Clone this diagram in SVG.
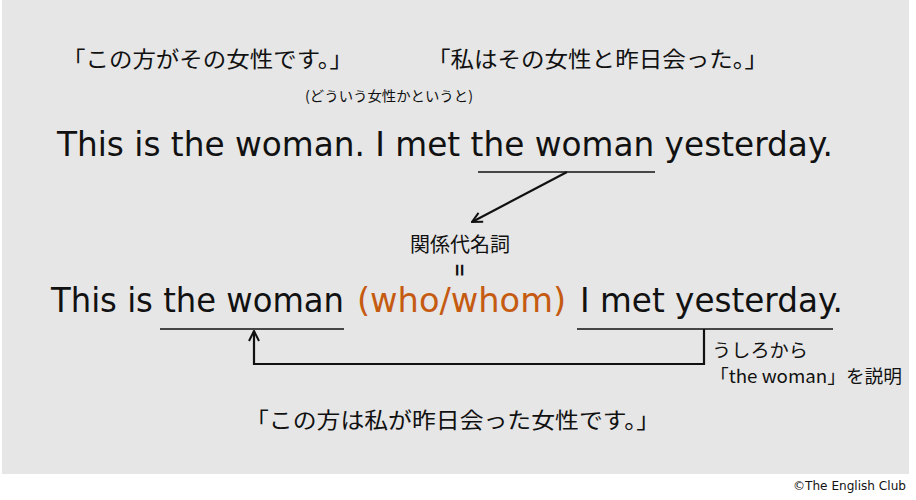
<svg xmlns="http://www.w3.org/2000/svg" width="916" height="500" viewBox="0 0 916 500">
<defs>
<style>
.en{font-family:"DejaVu Sans","Liberation Sans",sans-serif;fill:#111}
.jp{font-family:"Noto Sans CJK JP","Noto Sans",sans-serif;fill:#111}
.ul{stroke:#111;stroke-width:1.6;fill:none}
.cn{stroke:#111;stroke-width:2.2;fill:none}
</style>
<marker id="ah" viewBox="0 0 12 12" refX="11" refY="6" markerWidth="12" markerHeight="12" markerUnits="userSpaceOnUse" orient="auto">
<path d="M1,1 L11,6 L1,11" fill="none" stroke="#111" stroke-width="2"/>
</marker>
</defs>
<rect x="2" y="0" width="907" height="474" fill="#e6e6e6"/>
<g id="jp-top-left"><text class="jp" x="62" y="67" font-size="22" textLength="291" lengthAdjust="spacingAndGlyphs">「この方がその女性です。」</text></g>
<g id="jp-top-right"><text class="jp" x="427" y="67" font-size="22" textLength="341" lengthAdjust="spacingAndGlyphs">「私はその女性と昨日会った。」</text></g>
<g id="jp-note"><text class="jp" x="305" y="101" font-size="14" textLength="168" lengthAdjust="spacingAndGlyphs">(どういう女性かというと)</text></g>
<g id="sentence1"><text class="en" x="57" y="156" font-size="34" textLength="776" lengthAdjust="spacingAndGlyphs">This is the woman. I met the woman yesterday.</text></g>
<g id="rel-label">
<text class="jp" x="460" y="252" font-size="20" text-anchor="middle">関係代名詞</text>
<text class="en" x="0" y="7" font-size="20" text-anchor="middle" transform="translate(460 270) rotate(90) scale(0.85 1.3)">=</text>
</g>
<g id="sentence2">
<text class="en" x="51" y="312" font-size="34" textLength="293" lengthAdjust="spacingAndGlyphs">This is the woman</text>
<text class="en" x="357" y="312" font-size="34" textLength="209" lengthAdjust="spacingAndGlyphs" style="fill:#c55a11">(who/whom)</text>
<text class="en" x="580" y="312" font-size="34" textLength="263" lengthAdjust="spacingAndGlyphs">I met yesterday.</text>
</g>
<g id="jp-explain">
<text class="jp" x="712" y="357" font-size="18" textLength="96" lengthAdjust="spacingAndGlyphs">うしろから</text>
<text class="jp" x="710" y="383" font-size="18" textLength="192" lengthAdjust="spacingAndGlyphs">「the woman」を説明</text>
</g>
<g id="jp-bottom"><text class="jp" x="245" y="428" font-size="22" textLength="415" lengthAdjust="spacingAndGlyphs">「この方は私が昨日会った女性です。」</text></g>
<g id="copyright"><text class="en" x="793" y="490" font-size="13" textLength="113" lengthAdjust="spacingAndGlyphs">©The English Club</text></g>
<g id="connectors">
<line class="ul" x1="478" y1="172" x2="655" y2="172"/>
<line class="cn" x1="567" y1="172" x2="472" y2="222" marker-end="url(#ah)"/>
<line class="ul" x1="160" y1="329" x2="344" y2="329"/>
<line class="ul" x1="577" y1="329" x2="833" y2="329"/>
<polyline class="cn" points="704,329 704,364 254,364 254,331" marker-end="url(#ah)"/>
</g>
</svg>
